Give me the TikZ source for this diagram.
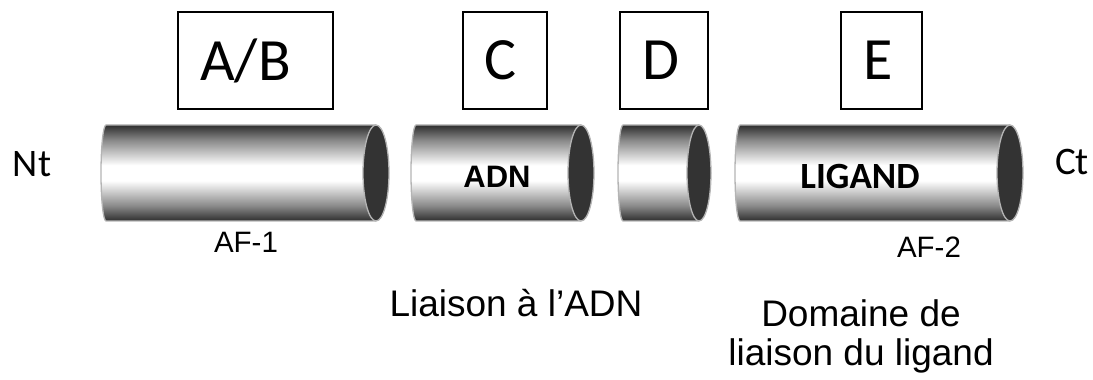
\documentclass[tikz,border=0pt]{standalone}
\usepackage{fontspec}
\setmainfont{Liberation Sans}
\newfontfamily\carlitofont{Carlito}
\definecolor{cdark}{HTML}{2E2E2E}
\definecolor{cmid}{HTML}{8A8A8A}
\definecolor{cedge}{HTML}{B4B4B4}
\definecolor{cend}{HTML}{333333}
\pgfdeclareverticalshading{cylsh}{100bp}{color(0bp)=(cdark); color(25bp)=(cdark); color(33bp)=(cmid); color(46bp)=(white); color(54bp)=(white); color(67bp)=(cmid); color(75bp)=(cdark); color(100bp)=(cdark)}
\newcommand\mycyl[3]{% left x, center x of right end, x radius of end
  \path[shading=cylsh] (#2,255) -- ({#1+5},255) arc[start angle=90,end angle=270,x radius=5,y radius=48] -- (#2,159) arc[start angle=-90,end angle=90,x radius=#3,y radius=48] -- cycle;
  \draw[cedge,line width=1.3pt] (#2,255) -- ({#1+5},255) arc[start angle=90,end angle=270,x radius=5,y radius=48] -- (#2,159);
  \filldraw[fill=cend,draw=cedge,line width=1.3pt] (#2,207) ellipse [x radius=#3,y radius=48];
}
\tikzset{
  letterbox/.style={draw=black,line width=1.2pt,inner sep=0pt,minimum height=97pt},
  boxletter/.style={inner sep=0pt,font=\carlitofont\fontsize{60}{72}\selectfont},
  endlabel/.style={anchor=base,inner sep=0pt,font=\carlitofont\fontsize{39}{46}\selectfont},
  smalllabel/.style={anchor=base,inner sep=0pt,font=\fontsize{29.5}{35}\selectfont},
  biglabel/.style={anchor=base,inner sep=0pt,font=\fontsize{37}{42}\selectfont},
}
\begin{document}
\begin{tikzpicture}[x=1pt,y=1pt]
\useasboundingbox (0,0) rectangle (1093,380);
% cylinders
\mycyl{101}{376}{13}
\mycyl{411}{581}{13}
\mycyl{618}{699}{12}
\mycyl{735}{1010}{13}
% labels on cylinders
\node[font=\bfseries\fontsize{31}{36}\selectfont,anchor=base] (adn) at (497,192) {ADN};
\node[font=\carlitofont\bfseries\fontsize{37}{42}\selectfont,anchor=base] (lig) at (860,191) {LIGAND};
% boxes
\node[letterbox,minimum width=155pt] (ab) at (255.5,319.5) {};
\node[letterbox,minimum width=84pt] (c) at (505,319.5) {};
\node[letterbox,minimum width=88pt] (d) at (664,319.5) {};
\node[letterbox,minimum width=81pt] (e) at (881.5,319.5) {};
\node[boxletter] (abt) at (245.5,319.5) {A/B};
\node[boxletter] (ct1) at (500,319.5) {C};
\node[boxletter] (dt) at (661,319.5) {D};
\node[boxletter] (et) at (878.5,319.5) {E};
% ends
\node[endlabel] (nt) at (32,203) {Nt};
\node[endlabel] (ct) at (1072,205) {Ct};
% lower labels
\node[smalllabel] (af1) at (246,127) {AF-1};
\node[smalllabel] (af2) at (929,122) {AF-2};
\node[biglabel] (liaison) at (516,63) {Liaison à l’ADN};
\node[biglabel] (dom1) at (861,53) {Domaine de};
\node[biglabel] (dom2) at (861,14) {liaison du ligand};
\end{tikzpicture}
\end{document}
